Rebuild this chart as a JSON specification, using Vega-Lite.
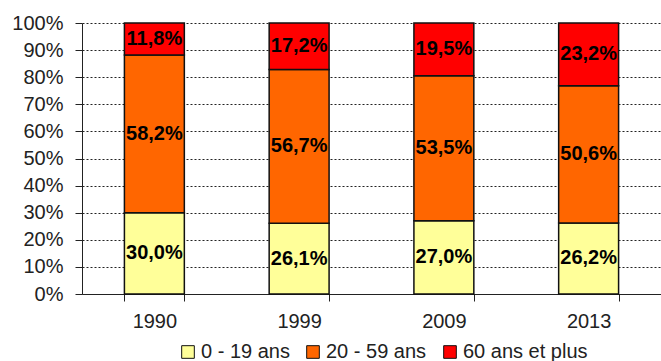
{
  "$schema": "https://vega.github.io/schema/vega-lite/v6.json",
  "width": 579,
  "height": 271,
  "autosize": "none",
  "padding": {"left": 82, "top": 23, "right": 0, "bottom": 67},
  "background": "white",
  "config": {
    "locale": {"number": {"decimal": ",", "thousands": " ", "grouping": [3], "currency": ["", " €"]}},
    "view": {"stroke": null},
    "font": "Liberation Sans"
  },
  "data": {
    "values": [
      {"annee": "1990", "age": "0 - 19 ans", "rang": 1, "part": 0.300},
      {"annee": "1990", "age": "20 - 59 ans", "rang": 2, "part": 0.582},
      {"annee": "1990", "age": "60 ans et plus", "rang": 3, "part": 0.118},
      {"annee": "1999", "age": "0 - 19 ans", "rang": 1, "part": 0.261},
      {"annee": "1999", "age": "20 - 59 ans", "rang": 2, "part": 0.567},
      {"annee": "1999", "age": "60 ans et plus", "rang": 3, "part": 0.172},
      {"annee": "2009", "age": "0 - 19 ans", "rang": 1, "part": 0.270},
      {"annee": "2009", "age": "20 - 59 ans", "rang": 2, "part": 0.535},
      {"annee": "2009", "age": "60 ans et plus", "rang": 3, "part": 0.195},
      {"annee": "2013", "age": "0 - 19 ans", "rang": 1, "part": 0.262},
      {"annee": "2013", "age": "20 - 59 ans", "rang": 2, "part": 0.506},
      {"annee": "2013", "age": "60 ans et plus", "rang": 3, "part": 0.232}
    ]
  },
  "encoding": {
    "x": {
      "field": "annee",
      "type": "nominal",
      "scale": {"paddingInner": 0.586, "paddingOuter": 0.293},
      "axis": {
        "title": null,
        "labelAngle": 0,
        "labelFontSize": 20,
        "labelColor": "#222",
        "labelPadding": 10,
        "tickBand": "extent",
        "tickSize": 7,
        "tickColor": "#222",
        "domainColor": "#222",
        "grid": false
      }
    },
    "y": {
      "field": "part",
      "type": "quantitative",
      "stack": "zero",
      "scale": {"domain": [0, 1], "nice": false},
      "axis": {
        "title": null,
        "format": ".0%",
        "values": [0, 0.1, 0.2, 0.3, 0.4, 0.5, 0.6, 0.7, 0.8, 0.9, 1],
        "labelFontSize": 20,
        "labelColor": "#222",
        "labelPadding": 12,
        "tickSize": 7,
        "tickColor": "#222",
        "domainColor": "#222",
        "grid": true,
        "gridColor": "#222",
        "gridDash": [2, 2],
        "gridWidth": 1
      }
    },
    "order": {"field": "rang", "type": "quantitative"}
  },
  "layer": [
    {
      "mark": {"type": "bar", "stroke": "#111", "strokeWidth": 1.5},
      "encoding": {
        "color": {
          "field": "age",
          "type": "nominal",
          "scale": {
            "domain": ["0 - 19 ans", "20 - 59 ans", "60 ans et plus"],
            "range": ["#FFFF99", "#FF6600", "#FF0000"]
          },
          "legend": {
            "title": null,
            "orient": "none",
            "direction": "horizontal",
            "legendX": 96,
            "legendY": 319,
            "symbolType": "square",
            "symbolSize": 160,
            "symbolStrokeColor": "#111",
            "symbolStrokeWidth": 1,
            "symbolOpacity": 1,
            "labelFontSize": 20,
            "labelColor": "#222",
            "labelOffset": 3,
            "columnPadding": 13
          }
        }
      }
    },
    {
      "mark": {"type": "text", "fontSize": 20, "fontWeight": "bold", "color": "#000", "baseline": "middle"},
      "encoding": {
        "y": {"field": "part", "type": "quantitative", "stack": "zero", "bandPosition": 0.5},
        "text": {"field": "part", "type": "quantitative", "format": ".1%"}
      }
    }
  ]
}
